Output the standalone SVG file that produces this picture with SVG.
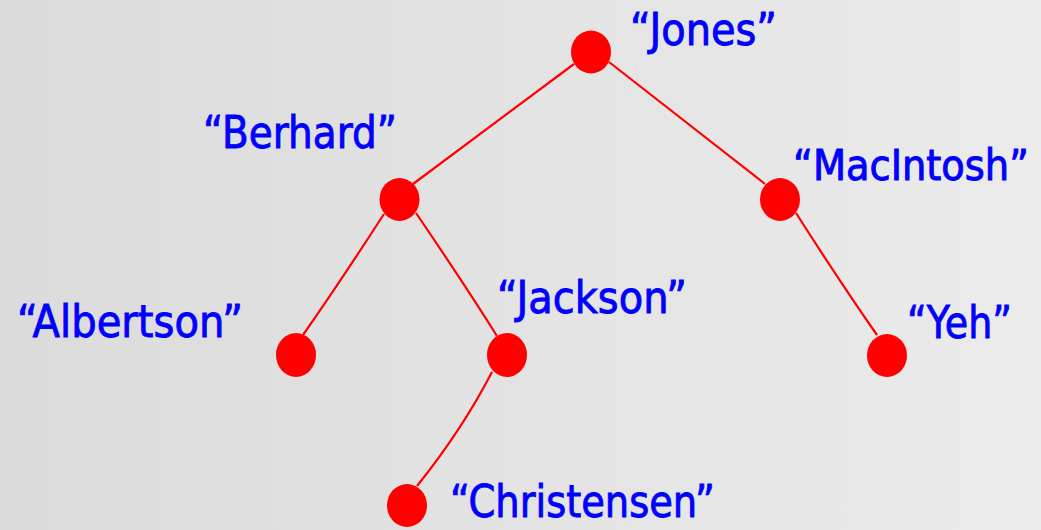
<svg xmlns="http://www.w3.org/2000/svg" width="1041" height="530" viewBox="0 0 1041 530">
<defs>
<linearGradient id="bg" x1="0" y1="0" x2="1" y2="0">
<stop offset="0" stop-color="#dbdbdb"/>
<stop offset="1" stop-color="#ebebeb"/>
</linearGradient>
<style>
.n{fill:#ff0000}
.l{fill:#0000ff;stroke:#0000ff;stroke-width:0.9;font-family:"DejaVu Sans","Liberation Sans",sans-serif;font-size:44px}
.c{font-family:"DejaVu Sans Condensed","DejaVu Sans","Liberation Sans",sans-serif;font-size:42px}
.e{fill:none;stroke:#ff0000;stroke-width:2.2}
</style>
</defs>
<rect width="1041" height="530" fill="url(#bg)"/>
<g id="edges">
<path class="e" d="M574 64 L413 184"/>
<path class="e" d="M609 62 L765 184"/>
<path class="e" d="M384 214 Q340 282 303 335"/>
<path class="e" d="M416 213 Q465 285 497 336"/>
<path class="e" d="M796 213 Q840 282 877 335"/>
<path class="e" d="M492 372 Q462 430 417 486"/>
</g>
<g id="jones"><ellipse class="n" cx="591" cy="52" rx="20" ry="21.5"/><text class="l" x="630" y="45" textLength="147" lengthAdjust="spacingAndGlyphs">“Jones”</text></g>
<g id="berhard"><ellipse class="n" cx="399.5" cy="199.5" rx="20" ry="21.5"/><text class="l" x="203" y="148" textLength="194" lengthAdjust="spacingAndGlyphs">“Berhard”</text></g>
<g id="macintosh"><ellipse class="n" cx="780" cy="199.5" rx="20" ry="21.5"/><text class="l c" x="793" y="180" textLength="236" lengthAdjust="spacingAndGlyphs">“MacIntosh”</text></g>
<g id="albertson"><ellipse class="n" cx="296" cy="355" rx="20" ry="22"/><text class="l" x="17" y="337" textLength="226" lengthAdjust="spacingAndGlyphs">“Albertson”</text></g>
<g id="jackson"><ellipse class="n" cx="507" cy="355" rx="20" ry="22"/><text class="l" x="497" y="313" textLength="190" lengthAdjust="spacingAndGlyphs">“Jackson”</text></g>
<g id="yeh"><ellipse class="n" cx="887" cy="355.5" rx="20" ry="21.5"/><text class="l" x="907" y="338" textLength="105" lengthAdjust="spacingAndGlyphs">“Yeh”</text></g>
<g id="christensen"><ellipse class="n" cx="407" cy="505.5" rx="20" ry="21.5"/><text class="l" x="450" y="517" textLength="265" lengthAdjust="spacingAndGlyphs">“Christensen”</text></g>
</svg>
